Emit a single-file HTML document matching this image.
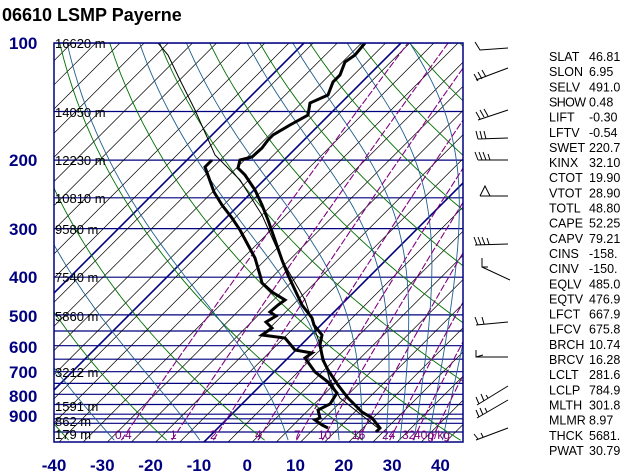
<!DOCTYPE html>
<html><head><meta charset="utf-8"><style>
html,body{margin:0;padding:0;background:#fff;width:636px;height:476px;overflow:hidden}
svg{display:block}
</style></head><body>
<svg id="s" width="636" height="476" xmlns="http://www.w3.org/2000/svg" font-family="Liberation Sans, sans-serif">
<text x="2" y="21" font-size="18" font-weight="bold" fill="#000">06610 LSMP Payerne</text>
<g id="grid"></g>
<g id="txt"></g>
</svg>
<script>
var NS="http://www.w3.org/2000/svg";
var g=document.getElementById('grid'), t=document.getElementById('txt');
var X0=54,X1=463,Y0=43,Y1=442;
function y(p){return 43+389*Math.log10(p/100);}
function x(T,yy){return 692+4.83*T-yy;}
function el(par,n,a,txt){var e=document.createElementNS(NS,n);for(var k in a)e.setAttribute(k,a[k]);if(txt!=null)e.textContent=txt;par.appendChild(e);return e;}
var defs=el(g,'defs',{});var cp=el(defs,'clipPath',{id:'c'});el(cp,'rect',{x:X0,y:Y0,width:X1-X0,height:Y1-Y0});
var G=el(g,'g',{'clip-path':'url(#c)'});
function path(pts,st,w,dash){var d='';pts.forEach(function(p,i){d+=(i?'L':'M')+p[0].toFixed(1)+' '+p[1].toFixed(1);});var a={d:d,fill:'none',stroke:st,'stroke-width':w};if(dash)a['stroke-dasharray']=dash;el(G,'path',a);}
// pressure lines
[100,150,200,250,300,400,500,550,600,650,700,750,800,850,900,925,950,1000].forEach(function(p){path([[X0,y(p)],[X1,y(p)]],'#000080',1.2);});
// isotherms
for(var s=646-24.15*30;s<646+24.15*40;s+=24.15){path([[s-Y1,Y1],[s-Y0,Y0]],'#000',0.7);}
[347,444,646].forEach(function(s){path([[s-Y1,Y1],[s-Y0,Y0]],'#000080',1.6);});
// dry adiabats
for(var th=212;th<=520;th+=20){var pts=[];for(var p=1050;p>=100;p-=10){var T=th*Math.pow(p/1000,0.286)-273.15;var yy=y(p);pts.push([x(T,yy),yy]);}path(pts,'#007000',0.9);}
// moist adiabats
function es(T){return 6.112*Math.exp(17.67*T/(T+243.5));}
function dTdp(T,p){var Tk=T+273.15;var e=es(T);var r=0.622*e/(p-e);var Lv=2.5e6,Rd=287,cp=1004,eps=0.622;
 var num=(Rd*Tk+Lv*r)/p; var den=cp+Lv*Lv*r*eps/(Rd*Tk*Tk);return num/den;}
[-50,-32,-14,5,16,21,26,29,32,35,38].forEach(function(T0){var T=T0,pts=[];for(var p=1000;p<=1050;p+=5){T+=dTdp(T,p)*5;}
 for(var p=1050;p>=100;p-=5){var yy=y(p);pts.push([x(T,yy),yy]);T-=dTdp(T,p)*5;}path(pts,'#1f5f8f',0.9);});
// mixing ratio
[0.4,1,2,4,7,10,16,24,32,40].forEach(function(w){var pts=[];for(var p=1050;p>=100;p-=10){var e=w*p/(622+w);var l=Math.log(e/6.112);var T=243.5*l/(17.67-l);var yy=y(p);pts.push([x(T,yy),yy]);}path(pts,'#800080',1.1,'7 2');});
// profiles
var parcel=[[378,428],[340,398],[330,380],[320,345],[305,300],[282,260],[262,215],[240,180],[215,155],[195,110],[180,80],[168,55],[158,43]];
path(parcel,'#000',1);
var temp=[[376,432],[380,428],[372,418],[362,412],[348,398],[338,385],[328,370],[323,360],[320,345],[322,335],[314,325],[312,318],[302,305],[295,290],[288,275],[282,260],[275,240],[268,220],[262,205],[255,190],[245,175],[238,168],[240,160],[252,157],[262,148],[268,140],[273,135],[290,125],[308,115],[310,103],[328,95],[333,82],[340,75],[345,62],[355,55],[365,43]];
path(temp,'#000',3);
var dew=[[328,428],[322,425],[315,420],[320,418],[318,410],[330,404],[337,393],[328,382],[315,372],[305,358],[312,353],[295,350],[285,338],[262,335],[272,328],[266,322],[276,316],[270,312],[278,305],[285,300],[272,292],[262,283],[260,275],[255,258],[248,245],[240,230],[232,218],[222,205],[214,192],[205,167],[212,160]];
path(dew,'#000',3);
el(g,'rect',{x:X0,y:Y0,width:X1-X0,height:Y1-Y0,fill:'none',stroke:'#000080','stroke-width':1.5});
// height labels
[['16620 m',43],['14050 m',112],['12230 m',160],['10810 m',198],['9580 m',229],['7540 m',277],['5860 m',316],['3212 m',372],['1591 m',406],['862 m',421],['179 m',434]].forEach(function(a){el(t,'text',{x:55,y:a[1]+5,'font-size':13,fill:'#000'},a[0]);});
// mixing labels
[['0.4',115],['1',170],['2',210],['4',255],['7',294],['10',318],['16',352],['24',382],['32',402],['40g/kg',414]].forEach(function(a){el(t,'text',{x:a[1],y:439,'font-size':12,fill:'#800080'},a[0]);});
// pressure labels
[[100,43],[200,160],[300,229],[400,277],[500,316],[600,347],[700,372],[800,396],[900,416]].forEach(function(a){el(t,'text',{x:9,y:a[1]+6,'font-size':17,'font-weight':'bold',fill:'#000080'},String(a[0]));});
[-40,-30,-20,-10,0,10,20,30,40].forEach(function(v,i){el(t,'text',{x:54+48.3*i,y:471,'font-size':17,'font-weight':'bold',fill:'#000080','text-anchor':'middle'},String(v));});
// stats
var st=[['SLAT','46.81'],['SLON','6.95'],['SELV','491.0'],['SHOW','0.48'],['LIFT','-0.30'],['LFTV','-0.54'],['SWET','220.7'],['KINX','32.10'],['CTOT','19.90'],['VTOT','28.90'],['TOTL','48.80'],['CAPE','52.25'],['CAPV','79.21'],['CINS','-158.'],['CINV','-150.'],['EQLV','485.0'],['EQTV','476.9'],['LFCT','667.9'],['LFCV','675.8'],['BRCH','10.74'],['BRCV','16.28'],['LCLT','281.6'],['LCLP','784.9'],['MLTH','301.8'],['MLMR','8.97'],['THCK','5681.'],['PWAT','30.79']];
st.forEach(function(a,i){var yy=61+15.15*i;var k=el(t,'text',{x:549,y:yy,'font-size':12.5,fill:'#000'},a[0]);if(a[0]=='SHOW')k.setAttribute('textLength','37');el(t,'text',{x:589,y:yy,'font-size':12.5,fill:'#000'},a[1]);});
// wind barbs
var barbs=[
 'M475 42 L480 50 L508 48',
 'M476 80 L508 68 M478 81 L474 74 M482 79 L478 72 M486 77 L482 70',
 'M478 120 L508 110 M480 119 L476 112 M484 117 L480 110 M488 116 L484 109',
 'M478 139 L508 138 M478 139 L476 131 M482 139 L480 131 M486 139 L484 131',
 'M478 160 L508 160 M478 160 L475 152 M482 160 L479 152 M486 160 L483 152 M490 160 L488 154',
 'M480 196 L508 196 M480 196 L485 186 L490 196',
 'M475 245 L508 244 M477 245 L474 237 M481 245 L478 237 M485 245 L482 237 M489 244 L487 238',
 'M482 258 L482 267 L510 280 M482 267 L488 267',
 'M476 325 L508 322 M478 325 L475 317 M484 324 L482 317',
 'M476 350 L476 357 L508 357 M476 357 L483 355',
 'M477 405 L508 386 M479 404 L476 397 M484 401 L481 394 M488 398 L486 395',
 'M477 418 L508 400 M479 417 L476 410 M483 415 L480 408 M487 412 L485 408',
 'M476 440 L508 428 M478 439 L474 434 M483 437 L481 433'];
barbs.forEach(function(d){el(t,'path',{d:d,fill:'none',stroke:'#000','stroke-width':1});});
</script>
</body></html>
